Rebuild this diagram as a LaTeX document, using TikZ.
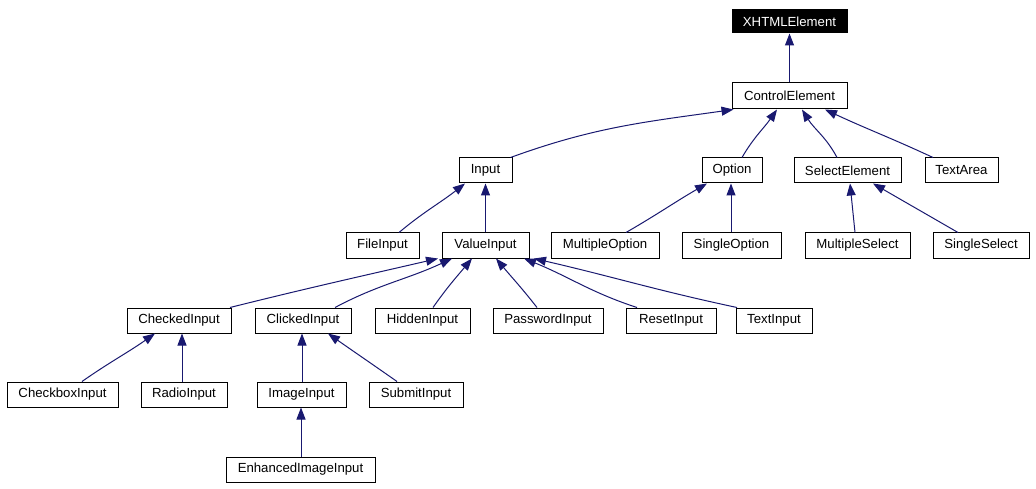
\documentclass[tikz,border=0pt]{standalone}
\usepackage{fontspec}
\setmainfont{Liberation Sans}
\usetikzlibrary{arrows.meta}
\definecolor{edgecol}{RGB}{25,25,112}
\begin{document}
\begin{tikzpicture}[x=1pt,y=1pt,
  box/.style={draw=black, line width=1pt, fill=white, minimum height=25pt, inner sep=0pt,
    font=\fontsize{13.2}{15}\selectfont},
  topbox/.style={box, fill=black, text=white, minimum height=23pt},
  edge/.style={draw=edgecol, line width=1pt, -{Triangle[length=12pt,width=9pt]}}]
\useasboundingbox[fill=white] (0,0) rectangle (1036,-489);
% nodes
\node[topbox, minimum width=115pt] (xhtml) at (789.5,-21.5) {XHTMLElement};
\node[box, minimum width=115pt, minimum height=26pt] (ce) at (789.5,-96) {ControlElement};
\node[box, minimum width=53pt] (input) at (485.5,-170.5) {Input};
\node[box, minimum width=60pt] (option) at (732,-170.5) {Option};
\node[box, minimum width=107pt] (select) at (847.5,-170.5) {SelectElement};
\node[box, minimum width=73pt] (textarea) at (961.5,-170.5) {TextArea};
\node[box, minimum width=73pt] (file) at (382.5,-245.5) {FileInput};
\node[box, minimum width=87pt] (value) at (485.5,-245.5) {ValueInput};
\node[box, minimum width=108pt] (mopt) at (605,-245.5) {MultipleOption};
\node[box, minimum width=99pt] (sopt) at (731.5,-245.5) {SingleOption};
\node[box, minimum width=105pt] (msel) at (857.5,-245.5) {MultipleSelect};
\node[box, minimum width=96pt] (ssel) at (981,-245.5) {SingleSelect};
\node[box, minimum width=104pt] (checked) at (179,-320.5) {CheckedInput};
\node[box, minimum width=96pt] (clicked) at (303,-320.5) {ClickedInput};
\node[box, minimum width=95pt] (hidden) at (422.5,-320.5) {HiddenInput};
\node[box, minimum width=110pt] (password) at (548,-320.5) {PasswordInput};
\node[box, minimum width=90pt] (reset) at (671,-320.5) {ResetInput};
\node[box, minimum width=76pt] (text) at (774,-320.5) {TextInput};
\node[box, minimum width=111pt] (checkbox) at (62.5,-394.5) {CheckboxInput};
\node[box, minimum width=86pt] (radio) at (184,-394.5) {RadioInput};
\node[box, minimum width=89pt] (image) at (301.5,-394.5) {ImageInput};
\node[box, minimum width=94pt] (submit) at (416,-394.5) {SubmitInput};
\node[box, minimum width=149pt] (enh) at (300.5,-469.5) {EnhancedImageInput};
% edges
\draw[edge] (ce.north) -- (xhtml.south);
\draw[edge] ([xshift=25pt]input.north) to[out=20,in=188] ([xshift=-56pt]ce.south);
\draw[edge] ([xshift=10pt]option.north) to[out=60,in=235] ([xshift=-12.5pt]ce.south);
\draw[edge] ([xshift=-10.5pt]select.north) to[out=118,in=-58] ([xshift=12.5pt]ce.south);
\draw[edge] ([xshift=-28.5pt]textarea.north) to[out=155,in=-25] ([xshift=35.5pt]ce.south);
\draw[edge] ([xshift=16.5pt]file.north) to[out=40,in=218] ([xshift=-20.5pt]input.south);
\draw[edge] (value.north) -- (input.south);
\draw[edge] ([xshift=21pt]mopt.north) to[out=30,in=210] ([xshift=-25pt]option.south);
\draw[edge] ([xshift=-0.5pt]sopt.north) -- ([xshift=-1pt]option.south);
\draw[edge] ([xshift=-2.5pt]msel.north) -- ([xshift=2.5pt]select.south);
\draw[edge] ([xshift=-23pt]ssel.north) to[out=150,in=-30] ([xshift=25.5pt]select.south);
\draw[edge] ([xshift=51pt]checked.north) to[out=14,in=193] ([xshift=-47.5pt]value.south);
\draw[edge] ([xshift=32pt]clicked.north) to[out=28,in=205] ([xshift=-33.5pt]value.south);
\draw[edge] ([xshift=10.5pt]hidden.north) to[out=55,in=230] ([xshift=-13.5pt]value.south);
\draw[edge] ([xshift=-11pt]password.north) to[out=128,in=-50] ([xshift=10.5pt]value.south);
\draw[edge] ([xshift=-34pt]reset.north) to[out=162,in=-22] ([xshift=38.5pt]value.south);
\draw[edge] ([xshift=-37pt]text.north) to[out=168,in=-13] ([xshift=48.5pt]value.south);
\draw[edge] ([xshift=19.5pt]checkbox.north) to[out=35,in=215] ([xshift=-24pt]checked.south);
\draw[edge] ([xshift=-2pt]radio.north) -- ([xshift=3pt]checked.south);
\draw[edge] ([xshift=0.5pt]image.north) -- ([xshift=-1pt]clicked.south);
\draw[edge] ([xshift=-19pt]submit.north) to[out=145,in=-35] ([xshift=25pt]clicked.south);
\draw[edge] ([xshift=0.5pt]enh.north) -- ([xshift=-0.5pt]image.south);
\end{tikzpicture}
\end{document}
